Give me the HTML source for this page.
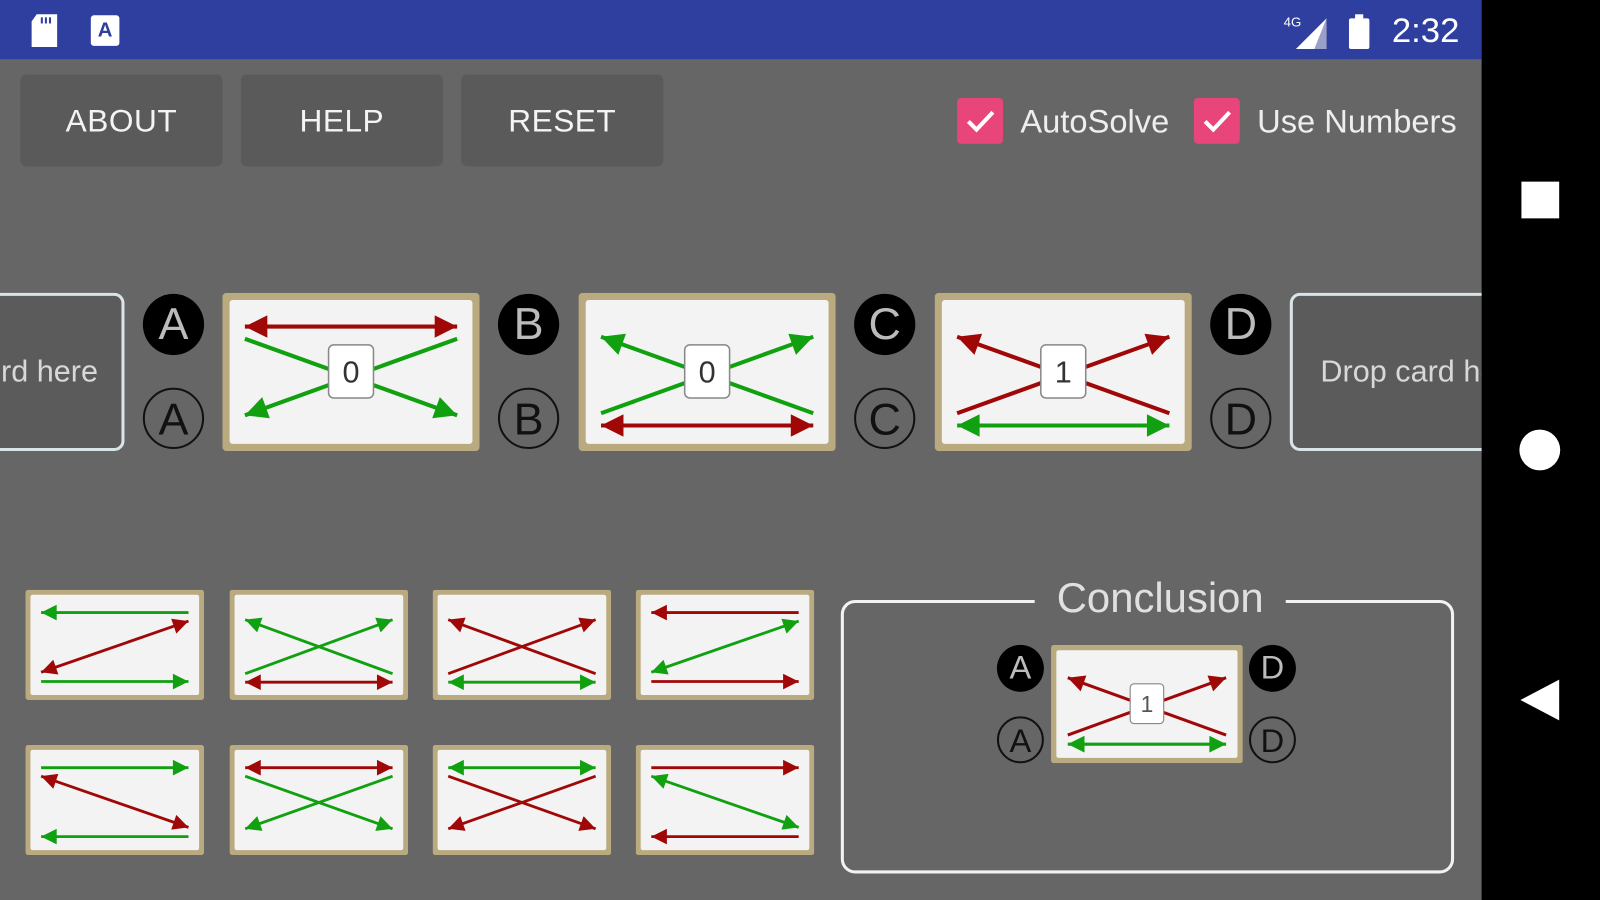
<!DOCTYPE html>
<html><head><meta charset="utf-8"><style>
*{margin:0;padding:0;box-sizing:border-box}
html,body{width:1600px;height:900px;overflow:hidden;background:#666}
#w{position:absolute;left:0;top:0;width:1568px;height:882px;transform:scale(1.020408);transform-origin:0 0;background:#666;font-family:"Liberation Sans",sans-serif}
.a{position:absolute}
.btn{position:absolute;top:73px;width:198px;height:90px;background:#5a5a5a;border-radius:6px;color:#f4f4f4;font-size:31px;text-align:center;line-height:92px;letter-spacing:0.5px}
.cb{position:absolute;top:96px;width:45px;height:45px;background:#e8457a;border-radius:4px}
.lbl{position:absolute;top:98px;color:#eee;font-size:32px;line-height:42px}
.cf{position:absolute;border-radius:50%;background:#000;color:#bbb;text-align:center}
.co{position:absolute;border-radius:50%;border:2px solid #111;color:#111;text-align:center}
.big{width:60px;height:60px;font-size:44px;line-height:60px}
.sm{width:46px;height:46px;font-size:32px;line-height:44px}
svg.card{position:absolute}
.r{stroke:#a00808;stroke-width:4;fill:none}
.g{stroke:#10a010;stroke-width:4;fill:none}
.drop{position:absolute;top:287px;height:155px;background:#5b5b5b;border:3px solid #d8e4e8;border-radius:10px;color:#d8d8d8;font-size:30px;line-height:150px;overflow:hidden;white-space:nowrap}
</style></head><body><div id="w">
<svg width="0" height="0" style="position:absolute"><defs>
<marker id="mr" viewBox="0 0 10 10" refX="10" refY="5" markerWidth="7" markerHeight="5.5" orient="auto-start-reverse" markerUnits="strokeWidth"><path d="M0,0L10,5L0,10z" fill="#a00808"/></marker>
<marker id="mg" viewBox="0 0 10 10" refX="10" refY="5" markerWidth="7" markerHeight="5.5" orient="auto-start-reverse" markerUnits="strokeWidth"><path d="M0,0L10,5L0,10z" fill="#10a010"/></marker>
<symbol id="frame" viewBox="0 0 252 155"><rect x="0" y="0" width="252" height="155" rx="4" fill="#b9aa80"/><rect x="7" y="7" width="238" height="141" rx="3" fill="#f3f3f3"/></symbol>
</defs></svg>

<!-- status bar -->
<div class="a" style="left:0;top:0;width:1452px;height:58px;background:#2f3f9f"></div>
<svg class="a" style="left:28px;top:12px" width="34" height="36"><path d="M8,2H28V34H3V9z" fill="#fff"/><rect x="12" y="5" width="2" height="6" fill="#2f3f9f"/><rect x="16" y="5" width="2" height="6" fill="#2f3f9f"/><rect x="20" y="5" width="2" height="6" fill="#2f3f9f"/></svg>
<div class="a" style="left:89px;top:15px;width:28px;height:30px;background:#fff;border-radius:3px;color:#2f3f9f;font-size:20px;font-weight:bold;text-align:center;line-height:30px">A</div>
<svg class="a" style="left:1258px;top:10px" width="90" height="40"><path d="M12,38L42,8V38z" fill="#fff"/><path d="M42,8V38H30z" fill="#9aa0c8"/><text x="0" y="16" fill="#fff" font-size="13" font-family="Liberation Sans">4G</text><rect x="64" y="8" width="20" height="30" rx="2" fill="#fff"/><rect x="70" y="4" width="8" height="5" fill="#fff"/></svg>
<div class="a" style="left:1364px;top:10px;color:#fff;font-size:34px;line-height:40px">2:32</div>

<!-- buttons -->
<div class="btn" style="left:20px">ABOUT</div>
<div class="btn" style="left:236px">HELP</div>
<div class="btn" style="left:452px">RESET</div>
<div class="cb" style="left:938px"><svg width="45" height="45"><path d="M11,23L19,31L35,14" stroke="#fff" stroke-width="4" fill="none"/></svg></div>
<div class="lbl" style="left:1000px">AutoSolve</div>
<div class="cb" style="left:1170px"><svg width="45" height="45"><path d="M11,23L19,31L35,14" stroke="#fff" stroke-width="4" fill="none"/></svg></div>
<div class="lbl" style="left:1232px">Use Numbers</div>

<!-- drop zones -->
<div class="drop" style="left:-40px;width:162px;padding-left:38px">rd here</div>
<div class="drop" style="left:1264px;width:210px;padding-left:27px">Drop card here</div>

<!-- circles -->
<div class="cf big" style="left:140px;top:288px">A</div><div class="co big" style="left:140px;top:380px">A</div>
<div class="cf big" style="left:488px;top:288px">B</div><div class="co big" style="left:488px;top:380px">B</div>
<div class="cf big" style="left:837px;top:288px">C</div><div class="co big" style="left:837px;top:380px">C</div>
<div class="cf big" style="left:1186px;top:288px">D</div><div class="co big" style="left:1186px;top:380px">D</div>

<!-- big cards -->
<svg class="card" style="left:218px;top:287px" width="252" height="155" viewBox="0 0 252 155"><use href="#frame"/>
<line class="r" x1="22" y1="33" x2="230" y2="33" marker-start="url(#mr)" marker-end="url(#mr)"/>
<line class="g" x1="22" y1="45" x2="230" y2="120" marker-end="url(#mg)"/>
<line class="g" x1="230" y1="45" x2="22" y2="120" marker-end="url(#mg)"/>
<rect x="104" y="51" width="44" height="52" rx="5" fill="#fff" stroke="#888" stroke-width="1.5"/><text x="126" y="88" text-anchor="middle" font-size="30" fill="#333" font-family="Liberation Sans">0</text></svg>

<svg class="card" style="left:567px;top:287px" width="252" height="155" viewBox="0 0 252 155"><use href="#frame"/>
<line class="g" x1="230" y1="118" x2="22" y2="43" marker-end="url(#mg)"/>
<line class="g" x1="22" y1="118" x2="230" y2="43" marker-end="url(#mg)"/>
<line class="r" x1="22" y1="130" x2="230" y2="130" marker-start="url(#mr)" marker-end="url(#mr)"/>
<rect x="104" y="51" width="44" height="52" rx="5" fill="#fff" stroke="#888" stroke-width="1.5"/><text x="126" y="88" text-anchor="middle" font-size="30" fill="#333" font-family="Liberation Sans">0</text></svg>

<svg class="card" style="left:916px;top:287px" width="252" height="155" viewBox="0 0 252 155"><use href="#frame"/>
<line class="r" x1="230" y1="118" x2="22" y2="43" marker-end="url(#mr)"/>
<line class="r" x1="22" y1="118" x2="230" y2="43" marker-end="url(#mr)"/>
<line class="g" x1="22" y1="130" x2="230" y2="130" marker-start="url(#mg)" marker-end="url(#mg)"/>
<rect x="104" y="51" width="44" height="52" rx="5" fill="#fff" stroke="#888" stroke-width="1.5"/><text x="126" y="88" text-anchor="middle" font-size="30" fill="#333" font-family="Liberation Sans">1</text></svg>

<!-- small cards row 1 -->
<svg class="card" style="left:25px;top:578px" width="175" height="108" viewBox="0 0 252 155" preserveAspectRatio="none"><use href="#frame"/>
<line class="g" x1="230" y1="32" x2="22" y2="32" marker-end="url(#mg)"/>
<line class="r" x1="22" y1="116" x2="230" y2="44" marker-start="url(#mr)" marker-end="url(#mr)"/>
<line class="g" x1="22" y1="129" x2="230" y2="129" marker-end="url(#mg)"/></svg>

<svg class="card" style="left:225px;top:578px" width="175" height="108" viewBox="0 0 252 155" preserveAspectRatio="none"><use href="#frame"/>
<line class="g" x1="230" y1="118" x2="22" y2="42" marker-end="url(#mg)"/>
<line class="g" x1="22" y1="118" x2="230" y2="42" marker-end="url(#mg)"/>
<line class="r" x1="22" y1="130" x2="230" y2="130" marker-start="url(#mr)" marker-end="url(#mr)"/></svg>

<svg class="card" style="left:424px;top:578px" width="175" height="108" viewBox="0 0 252 155" preserveAspectRatio="none"><use href="#frame"/>
<line class="r" x1="230" y1="118" x2="22" y2="42" marker-end="url(#mr)"/>
<line class="r" x1="22" y1="118" x2="230" y2="42" marker-end="url(#mr)"/>
<line class="g" x1="22" y1="130" x2="230" y2="130" marker-start="url(#mg)" marker-end="url(#mg)"/></svg>

<svg class="card" style="left:623px;top:578px" width="175" height="108" viewBox="0 0 252 155" preserveAspectRatio="none"><use href="#frame"/>
<line class="r" x1="230" y1="32" x2="22" y2="32" marker-end="url(#mr)"/>
<line class="g" x1="22" y1="116" x2="230" y2="44" marker-start="url(#mg)" marker-end="url(#mg)"/>
<line class="r" x1="22" y1="129" x2="230" y2="129" marker-end="url(#mr)"/></svg>

<!-- small cards row 2 -->
<svg class="card" style="left:25px;top:730px" width="175" height="108" viewBox="0 0 252 155" preserveAspectRatio="none"><use href="#frame"/>
<line class="g" x1="22" y1="32" x2="230" y2="32" marker-end="url(#mg)"/>
<line class="r" x1="22" y1="44" x2="230" y2="116" marker-start="url(#mr)" marker-end="url(#mr)"/>
<line class="g" x1="230" y1="129" x2="22" y2="129" marker-end="url(#mg)"/></svg>

<svg class="card" style="left:225px;top:730px" width="175" height="108" viewBox="0 0 252 155" preserveAspectRatio="none"><use href="#frame"/>
<line class="r" x1="22" y1="32" x2="230" y2="32" marker-start="url(#mr)" marker-end="url(#mr)"/>
<line class="g" x1="22" y1="44" x2="230" y2="118" marker-end="url(#mg)"/>
<line class="g" x1="230" y1="44" x2="22" y2="118" marker-end="url(#mg)"/></svg>

<svg class="card" style="left:424px;top:730px" width="175" height="108" viewBox="0 0 252 155" preserveAspectRatio="none"><use href="#frame"/>
<line class="g" x1="22" y1="32" x2="230" y2="32" marker-start="url(#mg)" marker-end="url(#mg)"/>
<line class="r" x1="22" y1="44" x2="230" y2="118" marker-end="url(#mr)"/>
<line class="r" x1="230" y1="44" x2="22" y2="118" marker-end="url(#mr)"/></svg>

<svg class="card" style="left:623px;top:730px" width="175" height="108" viewBox="0 0 252 155" preserveAspectRatio="none"><use href="#frame"/>
<line class="r" x1="22" y1="32" x2="230" y2="32" marker-end="url(#mr)"/>
<line class="g" x1="22" y1="44" x2="230" y2="116" marker-start="url(#mg)" marker-end="url(#mg)"/>
<line class="r" x1="230" y1="129" x2="22" y2="129" marker-end="url(#mr)"/></svg>

<!-- conclusion -->
<div class="a" style="left:824px;top:588px;width:601px;height:268px;border:3px solid #f2f2f2;border-radius:14px"></div>
<div class="a" style="left:1014px;top:562px;width:246px;height:48px;background:#666;color:#e0e0e0;font-size:41px;line-height:48px;text-align:center">Conclusion</div>
<div class="cf sm" style="left:977px;top:632px">A</div><div class="co sm" style="left:977px;top:702px">A</div>
<div class="cf sm" style="left:1224px;top:632px">D</div><div class="co sm" style="left:1224px;top:702px">D</div>
<svg class="card" style="left:1030px;top:632px" width="188" height="116" viewBox="0 0 252 155" preserveAspectRatio="none"><use href="#frame"/>
<line class="r" x1="230" y1="118" x2="22" y2="43" marker-end="url(#mr)"/>
<line class="r" x1="22" y1="118" x2="230" y2="43" marker-end="url(#mr)"/>
<line class="g" x1="22" y1="130" x2="230" y2="130" marker-start="url(#mg)" marker-end="url(#mg)"/>
<rect x="104" y="51" width="44" height="52" rx="5" fill="#fff" stroke="#888" stroke-width="1.5"/><text x="126" y="88" text-anchor="middle" font-size="30" fill="#555" font-family="Liberation Sans">1</text></svg>

<!-- nav bar -->
<div class="a" style="left:1452px;top:0;width:116px;height:882px;background:#000"></div>
<div class="a" style="left:1491px;top:178px;width:37px;height:36px;background:#fff"></div>
<div class="a" style="left:1489px;top:421px;width:40px;height:40px;background:#fff;border-radius:50%"></div>
<svg class="a" style="left:1488px;top:664px" width="42" height="44"><path d="M2,22L40,2V42z" fill="#fff"/></svg>
</div></body></html>
